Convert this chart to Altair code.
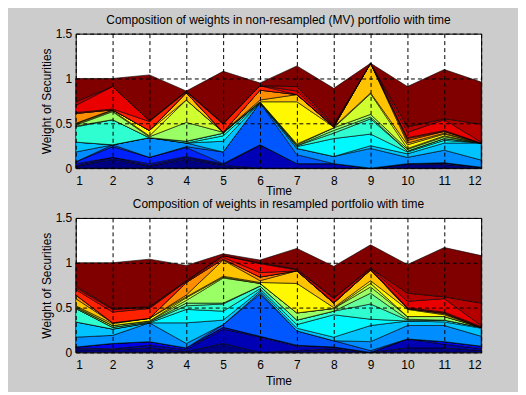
import altair as alt
import pandas as pd

TIMES = list(range(1, 13))
X_TICKS = list(range(1, 13))
Y_TICKS = [0, 0.5, 1, 1.5]

TITLE_MV = "Composition of weights in non-resampled (MV) portfolio with time"
TITLE_RS = "Composition of weights in resampled portfolio with time"

# ---- non-resampled (MV) portfolio: weight of each security at each time ----
MV_S00 = [.02, .10, .02, .10, .03, 0, 0, 0, 0, .04, .04, .01]
MV_S01 = [.01, .02, .01, .02, .01, .26, .05, .05, 0, .01, .02, 0]
MV_S02 = [.02, 0, .02, .01, .01, 0, 0, 0, 0, 0, 0, 0]
MV_S03 = [.02, .12, .07, .10, 0, 0, 0, 0, 0, 0, 0, 0]
MV_S04 = [0, .02, 0, .01, .13, .47, .10, 0, 0, 0, 0, 0]
MV_S05 = [.11, 0, .22, .04, 0, 0, .07, .08, .22, .07, .14, .08]
MV_S06 = [.11, 0, 0, 0, .12, 0, 0, 0, .03, .04, .08, .19]
MV_S07 = [0, 0, 0, 0, .06, 0, .02, .20, .13, .02, .03, 0]
MV_S08 = [.17, .28, 0, .02, .03, .01, .01, .06, .17, .01, .02, 0]
MV_S09 = [.01, 0, 0, 0, 0, 0, 0, .03, .02, 0, 0, 0]
MV_S10 = [.01, .09, .01, .21, .01, 0, .01, .03, .03, .02, .02, 0]
MV_S11 = [.01, .01, .01, .25, 0, 0, .01, 0, .23, .01, .01, 0]
MV_S12 = [.01, .01, .06, 0, 0, 0, .47, .01, .01, .04, .02, 0]
MV_S13 = [0, 0, 0, .08, 0, .02, .08, 0, .33, .02, .01, 0]
MV_S14 = [.11, 0, 0, 0, 0, .11, 0, 0, 0, .03, .02, 0]
MV_S15 = [0, 0, 0, 0, 0, 0, 0, 0, 0, .02, 0, 0]
MV_S16 = [.01, .01, .10, .01, .09, .05, 0, .01, 0, .01, .01, 0]
MV_S17 = [.08, .25, .01, .01, .01, 0, .04, .01, 0, .06, .12, .01]
MV_S18 = [.04, 0, 0, 0, 0, 0, .05, .01, 0, .06, .01, .20]
MV_S19 = [.26, .09, .51, 0, .58, .03, .23, .40, 0, .45, .55, .47]

# ---- resampled portfolio ----
RS_S00 = [.03, .03, .05, .01, .10, 0, .02, .04, 0, .05, .05, .02]
RS_S01 = [.02, .01, .03, .02, .16, .17, .05, .02, 0, .10, .04, .02]
RS_S02 = [.01, .06, .04, .02, .02, .01, .01, 0, 0, 0, .03, .03]
RS_S03 = [0, 0, 0, 0, 0, 0, 0, 0, 0, 0, 0, 0]
RS_S04 = [0, 0, 0, 0, .03, .47, .16, .07, .02, 0, 0, 0]
RS_S05 = [.11, .09, .21, .05, 0, .02, 0, 0, .10, .15, .18, .11]
RS_S06 = [.17, .07, 0, .23, .05, .02, .03, .04, .18, .05, .04, .09]
RS_S07 = [0, 0, 0, .15, .10, .02, .04, .25, .07, 0, .02, .01]
RS_S08 = [.15, .02, .01, .04, .08, .03, .05, .04, .17, .01, 0, 0]
RS_S09 = [0, 0, 0, .03, .01, 0, 0, 0, .12, .01, 0, 0]
RS_S10 = [.01, .02, .01, .03, .28, .03, .08, .03, .07, .03, .04, 0]
RS_S11 = [.01, 0, 0, .03, .01, 0, 0, 0, .04, 0, 0, 0]
RS_S12 = [.01, .02, .03, .01, .01, .01, .33, .01, .03, .08, .02, 0]
RS_S13 = [.08, .01, 0, .02, .18, .02, .14, .05, .12, .01, .01, 0]
RS_S14 = [.04, 0, 0, .14, .01, .04, 0, 0, 0, 0, .01, 0]
RS_S15 = [0, 0, 0, 0, 0, 0, 0, 0, 0, 0, 0, 0]
RS_S16 = [.06, .12, .11, .01, .02, .05, 0, .01, .01, .01, .01, .01]
RS_S17 = [.02, .03, .01, .01, .02, .10, .01, .04, .01, .07, .15, .01]
RS_S18 = [.02, .01, .01, 0, 0, .01, .01, .01, 0, .09, .02, .25]
RS_S19 = [.26, .51, .53, .17, .02, .03, .23, .35, .26, .32, .55, .53]

MV_SERIES = [MV_S00, MV_S01, MV_S02, MV_S03, MV_S04, MV_S05, MV_S06, MV_S07,
             MV_S08, MV_S09, MV_S10, MV_S11, MV_S12, MV_S13, MV_S14, MV_S15,
             MV_S16, MV_S17, MV_S18, MV_S19]
RS_SERIES = [RS_S00, RS_S01, RS_S02, RS_S03, RS_S04, RS_S05, RS_S06, RS_S07,
             RS_S08, RS_S09, RS_S10, RS_S11, RS_S12, RS_S13, RS_S14, RS_S15,
             RS_S16, RS_S17, RS_S18, RS_S19]

N = len(MV_SERIES)
NAMES = [f"S{i:02d}" for i in range(N)]


def jet(i, n):
    x = i / (n - 1)
    def c(v):
        return max(0.0, min(1.0, v))
    r = c(min(4 * x - 1.5, -4 * x + 4.5))
    g = c(min(4 * x - 0.5, -4 * x + 3.5))
    b = c(min(4 * x + 0.5, -4 * x + 2.5))
    return "#%02x%02x%02x" % (round(r * 255), round(g * 255), round(b * 255))


COLORS = [jet(i, N) for i in range(N)]


def long_df(series):
    rows = []
    for i, vals in enumerate(series):
        for t, v in zip(TIMES, vals):
            rows.append({"series": NAMES[i], "idx": i, "time": t, "weight": v})
    return pd.DataFrame(rows)


FONT = "Liberation Sans"


def panel(series, title, x_title_pad):
    return alt.Chart(long_df(series)).mark_area(
        stroke="black", strokeWidth=0.6, interpolate="linear", opacity=1
    ).encode(
        x=alt.X("time:Q",
                scale=alt.Scale(domain=[1, 12], nice=False, zero=False),
                axis=alt.Axis(values=X_TICKS, format="d", title="Time",
                              grid=True, gridDash=[4, 3], gridColor="black",
                              gridOpacity=1, gridWidth=1, ticks=False, domain=False,
                              labelPadding=7, titlePadding=x_title_pad, zindex=1,
                              labelFontSize=12, titleFontSize=12,
                              labelColor="black", titleColor="black",
                              titleFontWeight="normal", labelFont=FONT, titleFont=FONT)),
        y=alt.Y("weight:Q", stack="zero",
                scale=alt.Scale(domain=[0, 1.5], nice=False),
                axis=alt.Axis(values=Y_TICKS, format="~g", title="Weight of Securities",
                              grid=True, gridDash=[4, 3], gridColor="black",
                              gridOpacity=1, gridWidth=1, ticks=False, domain=False,
                              labelPadding=4, titlePadding=2, zindex=1,
                              labelFontSize=12, titleFontSize=12,
                              labelColor="black", titleColor="black",
                              titleFontWeight="normal", labelFont=FONT, titleFont=FONT)),
        color=alt.Color("series:N", scale=alt.Scale(domain=NAMES, range=COLORS), legend=None),
        order=alt.Order("idx:Q", sort="ascending"),
    ).properties(
        width=407, height=135,
        title=alt.TitleParams(title, fontSize=12, fontWeight="normal", font=FONT,
                              color="black", offset=1, anchor="middle"),
    )


chart = alt.vconcat(
    panel(MV_SERIES, TITLE_MV, -1),
    panel(RS_SERIES, TITLE_RS, 5),
    spacing=0,
).properties(
    background="#cccccc",
    padding={"left": 31, "top": 4, "right": 35, "bottom": 4},
).configure_view(
    fill="white", stroke="black", strokeWidth=1
)

chart.save("out.html", embed_options={"renderer": "svg", "actions": False})
